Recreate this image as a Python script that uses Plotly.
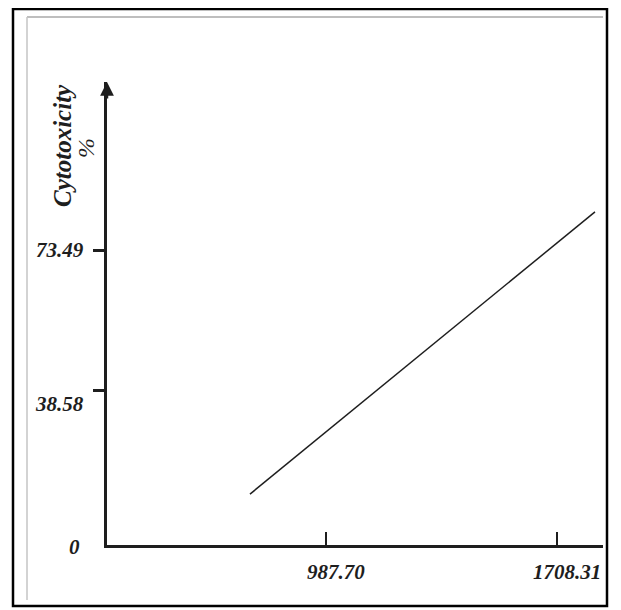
import plotly.graph_objects as go

# ---- data ----
line_x = [750.6, 1826.8]          # concentration
line_y = [12.7, 83.1]             # cytotoxicity %
x_tick_vals = [987.70, 1708.31]
x_tick_text = ["987.70", "1708.31"]
y_tick_vals = [0, 38.58, 73.49]
y_tick_text = ["0", "38.58", "73.49"]
y_title = "Cytotoxicity"
y_unit = "%"

x_range = [304.5, 1851.8]
y_range = [0, 115.5]

# label placement tweaks (styling only, pixels)
y_label_dy = {"0": -2, "38.58": -14, "73.49": 0}

OFF = 8                      # page body margin of the browser
W, H = 621 - OFF, 610 - OFF
L, R, T, B = 107 - OFF, 18, 82 - OFF, 65
pw, ph = W - L - R, H - T - B


def px(xs):                  # screen pixel -> paper x
    return (xs - OFF - L) / pw


def py(ys):                  # screen pixel -> paper y
    return (H - B - (ys - OFF)) / ph


ink = "#1e1e1e"
font = dict(family="Liberation Serif", size=21, color=ink, weight="bold", style="italic")

fig = go.Figure()
fig.add_trace(go.Scatter(x=line_x, y=line_y, mode="lines",
                         line=dict(color=ink, width=1.5), showlegend=False,
                         hoverinfo="skip"))

fig.update_xaxes(range=x_range, showgrid=False, zeroline=False, showline=True,
                 linecolor=ink, linewidth=2.8, ticks="inside", ticklen=13,
                 tickwidth=2, tickcolor=ink, tickvals=x_tick_vals,
                 showticklabels=False, fixedrange=True)
fig.update_yaxes(range=y_range, showgrid=False, zeroline=False, showline=True,
                 linecolor=ink, linewidth=2.8, ticks="outside", ticklen=11,
                 tickwidth=2.5, tickcolor=ink, tickvals=y_tick_vals[1:],
                 showticklabels=False, fixedrange=True)

annotations = []
for v, t in zip(x_tick_vals, x_tick_text):
    annotations.append(dict(x=v, xref="x", y=0, yref="paper", text=t,
                            showarrow=False, xanchor="center", yanchor="middle",
                            xshift=10, yshift=-27, font=font))
for v, t in zip(y_tick_vals, y_tick_text):
    annotations.append(dict(x=0, xref="paper", y=v, yref="y", text=t,
                            showarrow=False, xanchor="right", yanchor="middle",
                            xshift=-21 if v != 0 else -25,
                            yshift=y_label_dy.get(t, 0), font=font))
# axis arrow head
annotations.append(dict(x=0, xref="paper", y=1, yref="paper", ax=0, ay=18,
                        text="", showarrow=True, arrowhead=2, arrowsize=1.1,
                        arrowwidth=2.5, arrowcolor=ink, standoff=0))
# axis title
annotations.append(dict(x=px(62), xref="paper", y=py(146), yref="paper",
                        text=y_title, textangle=-90, showarrow=False,
                        xanchor="center", yanchor="middle",
                        font=dict(font, size=25)))
annotations.append(dict(x=px(86), xref="paper", y=py(148), yref="paper",
                        text=y_unit, textangle=-90, showarrow=False,
                        xanchor="center", yanchor="middle",
                        font=dict(font, size=24, weight="normal")))

shapes = [
    # outer frame
    dict(type="rect", xref="paper", yref="paper", x0=px(13), x1=px(607),
         y0=py(606), y1=py(9), line=dict(color="#000", width=2.5),
         fillcolor="rgba(0,0,0,0)", layer="above"),
    # faint scan page edges
    dict(type="line", xref="paper", yref="paper", x0=px(27), x1=px(603),
         y0=py(17), y1=py(17), line=dict(color="#a8a8a8", width=1.5)),
    dict(type="line", xref="paper", yref="paper", x0=px(27), x1=px(27),
         y0=py(17), y1=py(600), line=dict(color="#c4c4c4", width=1.5)),
]

fig.update_layout(width=W, height=H, margin=dict(l=L, r=R, t=T, b=B),
                  paper_bgcolor="white", plot_bgcolor="white",
                  annotations=annotations, shapes=shapes, showlegend=False)

fig.write_html("out.html")
